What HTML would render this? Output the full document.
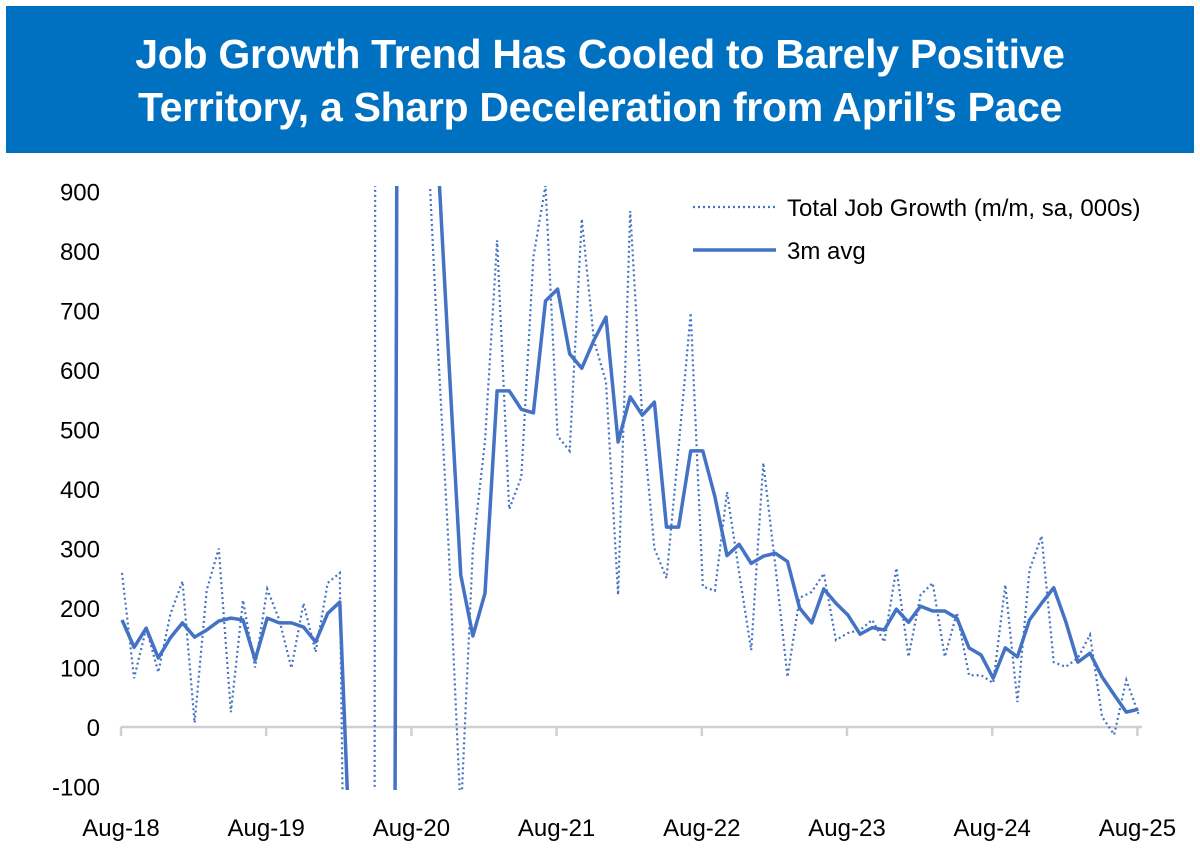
<!DOCTYPE html>
<html><head><meta charset="utf-8">
<style>
html,body{margin:0;padding:0;background:#fff;width:1200px;height:860px;overflow:hidden;}
body{position:relative;font-family:"Liberation Sans",sans-serif;}
#banner{position:absolute;left:6px;top:6px;width:1188px;height:147px;background:#0070C0;color:#fff;font-weight:bold;font-size:41px;line-height:53px;text-align:center;padding-top:22px;box-sizing:border-box;letter-spacing:-0.3px;overflow:hidden;}
svg{position:absolute;left:0;top:0;display:block;}
.ax{font-family:"Liberation Sans Narrow","Liberation Sans",sans-serif;font-size:24px;fill:#000;}
.lg{font-family:"Liberation Sans Narrow","Liberation Sans",sans-serif;font-size:24px;fill:#000;}
</style></head>
<body>
<div id="banner">Job Growth Trend Has Cooled to Barely Positive<br>Territory, a Sharp Deceleration from April’s Pace</div>
<svg id="chart" width="1200" height="860">
<defs><clipPath id="clip"><rect x="100" y="186" width="1100" height="604"/></clipPath></defs>
<g id="yaxis"></g>
<g id="xaxis"></g>
<g clip-path="url(#clip)" id="series"></g>
<g id="legend">
<line x1="693" y1="207" x2="776" y2="207" stroke="#4472C4" stroke-width="2.2" stroke-dasharray="2,3"/>
<text class="lg" x="787" y="216">Total Job Growth (m/m, sa, 000s)</text>
<line x1="693" y1="250" x2="776" y2="250" stroke="#4472C4" stroke-width="3.5"/>
<text class="lg" x="787" y="259">3m avg</text>
</g>
</svg>
<script>
const xTickLabels = ["Aug-18","Aug-19","Aug-20","Aug-21","Aug-22","Aug-23","Aug-24","Aug-25"];
const yTicks = [900,800,700,600,500,400,300,200,100,0,-100];
const monthly = [259,82,166,92,190,245,7,230,300,25,213,100,232,180,99,208,126,242,259,-1373,-20500,2700,4800,1700,1500,1100,680,300,-150,300,480,818,366,420,790,910,489,464,854,650,580,222,867,520,300,250,470,696,236,229,395,260,129,444,270,84,217,227,258,146,158,163,180,143,267,118,222,242,118,192,87,87,74,239,42,264,321,109,101,116,155,17,-13,79,22];
const avg3m = [180,134,166,116,150,175,151,163,178,183,180,113,183,175,175,168,143,191,210,-300,-7200,-6400,-4300,3070,2670,1300,1000,620,255,153,225,565,565,534,528,716,736,627,603,650,689,479,555,524,546,336,336,464,464,387,288,307,275,287,292,278,200,175,232,208,188,156,167,163,198,176,203,195,195,183,133,121,82,133,118,180,208,234,177,109,124,84,54,25,30];

const NS="http://www.w3.org/2000/svg";
const X0=122, DX=12.1, Y0=727, PY=0.595;
const xs=i=>X0+i*DX;
const ys=v=>Y0-v*PY;
function mk(tag,attrs,parent){const e=document.createElementNS(NS,tag);for(const k in attrs)e.setAttribute(k,attrs[k]);parent.appendChild(e);return e;}
const ya=document.getElementById('yaxis');
yTicks.forEach(v=>{const t=mk('text',{x:100,y:ys(v)+9,'text-anchor':'end','class':'ax'},ya);t.textContent=v;

});
const xa=document.getElementById('xaxis');
const base=mk('line',{x1:121,y1:Y0,x2:1142,y2:Y0,stroke:'#d0d0d0','stroke-width':2.5},xa);


xTickLabels.forEach((l,k)=>{const x=xs(k*12)-1;
const tk=mk('line',{x1:x,y1:Y0,x2:x,y2:Y0+9,stroke:'#d0d0d0','stroke-width':2.5},xa);


const t=mk('text',{x:x,y:836,'text-anchor':'middle','class':'ax'},xa);t.textContent=l;

});
const sg=document.getElementById('series');
const p1=mk('polyline',{points:monthly.map((v,i)=>xs(i)+','+ys(v)).join(' '),fill:'none',stroke:'#4472C4','stroke-width':2.2,'stroke-dasharray':'2,3'},sg);


const p2=mk('polyline',{points:avg3m.map((v,i)=>xs(i)+','+ys(v)).join(' '),fill:'none',stroke:'#4472C4','stroke-width':3.5,'stroke-linejoin':'round'},sg);


</script>
</body></html>
